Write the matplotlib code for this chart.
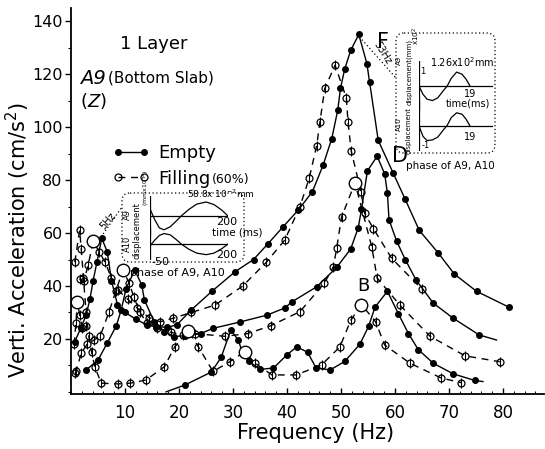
import numpy as np
import matplotlib
matplotlib.use("Agg")
import matplotlib.pyplot as plt
from matplotlib.transforms import Affine2D
from matplotlib.patches import FancyBboxPatch
from matplotlib.lines import Line2D
from matplotlib.ticker import MultipleLocator

# ---- Empty tank (solid line, filled dots) ----
f_F = [0.7, 1.8, 2.8, 3.5, 4.1, 4.8, 5.7, 6.7, 7.5, 8.6, 10.0, 12.0, 14.0, 15.8, 17.8, 19.6, 22.3, 26.1,
       30.4, 33.8, 36.5, 39.3, 42.1, 44.7, 46.7, 48.3, 49.4, 49.9, 50.7, 51.8, 53.3, 54.8, 55.3, 56.9,
       59.7, 61.9, 64.5, 68.0, 71.0, 75.1, 81.1]
a_F = [19, 24, 29, 35, 42, 49, 58, 53, 42, 33, 30, 27.5, 25.3, 24.6, 24.4, 25.3, 31, 38,
       45.4, 50, 56, 62.4, 68.7, 75.6, 85.7, 95.7, 106.4, 114.6, 122, 129, 135, 124, 117, 95,
       82.5, 72.7, 61, 52.5, 44.5, 38, 32]

f_D = [2.8, 5.0, 6.7, 8.4, 9.3, 10.2, 11.8, 13.1, 13.6, 15.4, 17.3, 19.1, 21.1, 24.0, 26.3, 31.3,
       36.3, 39.6, 40.9, 45.5, 49.2, 51.8, 53.2, 53.8, 54.9, 56.7, 58.1, 58.6, 58.9, 60.3, 61.9,
       63.9, 67.1, 70.8, 75.6, 78.8]
a_D = [8.3, 12, 18.4, 25, 31, 39, 46, 40.4, 34.7, 26.5, 22.8, 20.9, 21.2, 22, 24, 26.4,
       29, 31.7, 34, 39.7, 47, 54, 62, 69, 83.5, 89, 82.3, 75, 65, 57, 50,
       42.3, 33.5, 27.8, 21.5, 19.6]

f_B = [17.6, 21.1, 26.0, 27.8, 29.6, 31.0, 31.8, 33.0, 35.0, 37.5, 40.0, 41.8, 43.8, 45.4, 48.0,
       50.7, 53.5, 55.1, 56.3, 58.6, 60.6, 62.5, 64.3, 67.1, 70.8, 74.8, 76.3]
a_B = [0, 2.6, 7.5, 13, 23.4, 19.5, 14.5, 11.5, 8.5, 9, 14, 17, 15, 9, 8.3,
       11.5, 18, 24.7, 32, 38, 29.6, 22, 16, 10.8, 6.8, 4.3, 3.9]

# ---- Filling 60% (dashed line, open circles) ----
f_fF = [1.6, 2.4, 3.2, 4.1, 5.2, 6.3, 7.5, 8.7, 10.5, 12.3, 14.5, 16.5, 18.9, 22.3, 26.7, 31.8,
        36.2, 39.6, 42.4, 44.1, 45.5, 46.1, 47.0, 48.9, 51.0, 51.3, 51.9, 53.7, 54.4, 56.0, 59.4, 65.0]
a_fF = [42.5, 42, 48, 57, 53, 49, 43, 38.5, 35, 31.6, 28, 26.5, 27.8, 30, 32.8, 40,
        49, 57.4, 70, 80.6, 93, 102, 114.6, 123.4, 111, 102, 91, 75.6, 67.4, 61.7, 50.4, 38.8]

f_fD = [0.8, 1.0, 1.9, 3.0, 4.2, 5.4, 7.0, 8.3, 9.6, 10.8, 11.6, 12.8, 14.0, 16.0, 18.5, 20.7,
        23.0, 28.5, 32.7, 37.0, 42.4, 46.9, 48.6, 49.2, 50.1, 52.6, 55.7, 56.7, 60.9, 66.5, 73.0, 79.4]
a_fD = [7, 8, 14.7, 18, 19.5, 21, 30, 38, 46, 41, 36, 30, 26, 24, 22.5, 21.5,
        22, 21, 22, 25, 30.3, 41, 47.3, 54.2, 66, 79, 54.8, 43, 32.8, 21, 13.6, 11.4]

f_fB = [0.7, 1.6, 1.9, 2.3, 2.8, 3.3, 3.8, 4.4, 5.6, 8.7, 11.0, 13.9, 17.3, 19.2, 21.7, 23.6, 26.3,
        29.4, 32.2, 34.0, 37.2, 41.7, 46.4, 49.8, 51.8, 53.8, 56.4, 58.1, 62.8, 68.6, 72.3]
a_fB = [49, 61, 54, 43, 30, 21, 15.2, 9.5, 3.3, 3, 3.3, 4.5, 9.5, 17, 23, 17, 7.7,
        11.4, 15.2, 11, 6.4, 6.4, 10.2, 17, 27, 33, 26.5, 17.7, 10.8, 5.2, 3.5]

f_fL = [0.6, 0.9, 1.2, 1.6, 2.1, 2.7]
a_fL = [18, 26, 34, 29, 24, 25]

# large open circles at the filling peaks
f_pk = [1.2, 4.1, 9.6, 21.7, 32.2, 52.6, 53.8]
a_pk = [34, 57, 46, 23, 15.2, 79, 33]

# ---- phase insets ----
t5 = [-50, -35, -20, -5, 15, 35, 50, 75, 100, 130, 155, 180, 200]
a9_5 = [30, -15, -50, -58, -45, -20, 0, 28, 50, 58.8, 48, 25, 0]
a10_5 = [-10, 20, 45, 55, 48, 22, 0, -28, -48, -56, -48, -25, 0]

t53 = [0, 1.5, 3, 5, 7, 9, 10.5, 12, 14, 16, 17.5, 19]
a9_53 = [0, -0.6, -0.95, -1.05, -0.85, -0.35, 0, 0.55, 1.0, 0.85, 0.5, 0]
a10_53 = [0, -0.75, -1.05, -1.0, -0.8, -0.3, 0.05, 0.6, 0.95, 0.85, 0.5, 0]

W, H = 545, 449
fig = plt.figure(figsize=(W / 100, H / 100), dpi=100)
pix = Affine2D().scale(1 / W, -1 / H).translate(0, 1) + fig.transFigure


def box(x0, y0, x1, y1):
    return [x0 / W, 1 - y1 / H, (x1 - x0) / W, (y1 - y0) / H]


def label(x, y, s, **kw):
    fig.text(x / W, 1 - y / H, s, **kw)


ax = fig.add_axes(box(71, 8, 544, 394))
ax.set_xlim(0, 87.6)
ax.set_ylim(-0.8, 145)
for s in ("top", "right"):
    ax.spines[s].set_visible(False)
for s in ("left", "bottom"):
    ax.spines[s].set_linewidth(1.3)

ax.set_yticks([20, 40, 60, 80, 100, 120, 140])
ax.yaxis.set_minor_locator(MultipleLocator(10))
ax.set_xticks([10, 20, 30, 40, 50, 60, 70, 80])
ax.xaxis.set_minor_locator(MultipleLocator(2))
ax.tick_params(axis="y", which="major", direction="out", length=4, width=1, labelsize=11.5, pad=2)
ax.tick_params(axis="y", which="minor", direction="out", length=2, width=0.8)
ax.tick_params(axis="x", which="major", direction="in", length=4, width=1, labelsize=12, pad=7)
ax.tick_params(axis="x", which="minor", direction="in", length=2, width=0.7)

ax.set_xlabel("Frequency (Hz)", fontsize=15, va="center")
ax.xaxis.set_label_coords(0.516, -0.101)
ax.set_ylabel("Verti. Acceleration (cm/s$^2$)", fontsize=15, va="center")
ax.yaxis.set_label_coords(-0.112, 0.40)

sol = dict(color="k", lw=1.0, marker="o", ms=4, mfc="k", mec="k")
dash = dict(color="k", lw=1.0, ls=(0, (5, 4)), marker="o", ms=5, mfc="none", mec="k", mew=0.9)

ax.plot(f_F, a_F, **sol)
ax.plot(f_D, a_D, markevery=slice(0, -1), **sol)
ax.plot(f_B, a_B, markevery=slice(1, -1), **sol)

for fx, ay in [(f_fF, a_fF), (f_fD, a_fD), (f_fB, a_fB), (f_fL, a_fL)]:
    ax.plot(fx, ay, **dash)
    ax.plot(fx, ay, ls="none", marker="|", ms=7, mew=0.8, color="k")
ax.plot(f_pk, a_pk, ls="none", marker="o", ms=9, mfc="white", mec="k", mew=1.0)

# curve names
ax.text(57.8, 132, "F", fontsize=15, ha="center", va="center")
ax.text(60.9, 89, "D", fontsize=15, ha="center", va="center")
ax.text(54.1, 40, "B", fontsize=13, ha="center", va="center")

# titles
label(120, 44, "1 Layer", fontsize=13, va="center", ha="left")
label(80, 78, "A9", fontsize=14, style="italic", va="center")
label(108, 78, "(Bottom Slab)", fontsize=11, va="center")
label(80, 101, "($Z$)", fontsize=13, va="center")

# legend
hs = [Line2D([], [], **sol), Line2D([], [], **dash)]
leg = ax.legend(hs, ["Empty", "Filling"], numpoints=2, frameon=False, fontsize=13,
                handlelength=2.0, handletextpad=0.5, labelspacing=0.42, borderpad=0,
                loc="upper left", bbox_to_anchor=(104, 135), bbox_transform=pix)
label(212, 180, "(60%)", fontsize=9, va="center")

# dotted frames and leaders for the phase insets
for (x0, y0, x1, y1) in [(122, 193, 244, 262), (396, 33, 495, 153)]:
    fig.patches.append(FancyBboxPatch((x0, y0), x1 - x0, y1 - y0,
                                      boxstyle="round,pad=0,rounding_size=8", transform=pix,
                                      fill=False, ls=(0, (1, 2)), lw=0.9, ec="k"))
fig.lines.append(Line2D([101, 122], [237, 207], transform=pix, ls=(0, (1, 2)), lw=0.9, color="k"))
fig.lines.append(Line2D([357, 396], [34, 78], transform=pix, ls=(0, (1, 2)), lw=0.9, color="k"))
label(108, 221, "5Hz", fontsize=7, rotation=50, ha="center", va="center")
label(382, 53, "53Hz", fontsize=7, rotation=-58, ha="center", va="center")

# 5 Hz inset
for (y0, y1, a) in [(196, 236, a9_5), (228, 260, a10_5)]:
    ia = fig.add_axes(box(150, y0, 228, y1))
    ia.set_xlim(-50, 200)
    ia.set_ylim(-84, 84)
    ia.axis("off")
    ia.axhline(0, color="k", lw=0.9)
    ia.axvline(-50, color="k", lw=0.9)
    ia.plot(t5, a, color="k", lw=0.9)
label(187, 194, "58.8x 10$^{-2}$mm", fontsize=6.5, va="center")
label(216, 222, "200", fontsize=8, va="center")
label(212, 232, "time (ms)", fontsize=7.5, va="center")
label(216, 255, "200", fontsize=8, va="center")
label(151, 262, "-50", fontsize=8, va="center")
label(130, 273, "phase of A9, A10", fontsize=8, va="center")
label(127, 214, "A9", fontsize=6, rotation=90, ha="center", va="center")
label(127, 244, "A10", fontsize=6, rotation=90, ha="center", va="center")
label(137, 231, "displacement", fontsize=6, rotation=90, ha="center", va="center")
label(146, 188, "(mmx10$^{-2}$)", fontsize=4.5, rotation=90, ha="center", va="center")

# 53 Hz inset
for (y0, y1, a) in [(61, 111, a9_53), (101, 151, a10_53)]:
    ia = fig.add_axes(box(419, y0, 495, y1))
    ia.set_xlim(0, 28.3)
    ia.set_ylim(-1.8, 1.8)
    ia.axis("off")
    ia.axhline(0, xmax=0.96, color="k", lw=0.9)
    ia.axvline(0, color="k", lw=0.9)
    ia.plot(t53, a, color="k", lw=0.9)
label(462, 62, "1.26x10$^2$mm", fontsize=7, ha="center", va="center")
label(470, 94, "19", fontsize=7, ha="center", va="center")
label(468, 103, "time(ms)", fontsize=7, ha="center", va="center")
label(470, 137, "19", fontsize=7, ha="center", va="center")
label(423, 72, "1", fontsize=6, ha="center", va="center")
label(426, 146, "-1", fontsize=6, ha="center", va="center")
label(399, 60, "A9", fontsize=5, rotation=90, ha="center", va="center")
label(409, 72, "displacement(mm)", fontsize=5, rotation=90, ha="center", va="center")
label(416, 36, "x10$^2$", fontsize=5, rotation=90, ha="center", va="center")
label(399, 124, "A10", fontsize=5, rotation=90, ha="center", va="center")
label(409, 131, "displacement", fontsize=5, rotation=90, ha="center", va="center")
label(406, 166, "phase of A9, A10", fontsize=7.5, va="center")

fig.savefig("out.png", dpi=100)
